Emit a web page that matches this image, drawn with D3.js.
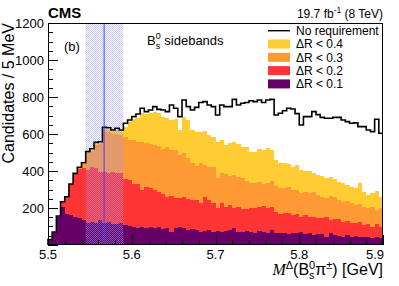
<!DOCTYPE html>
<html>
<head>
<meta charset="utf-8">
<script src="https://cdn.jsdelivr.net/npm/d3@7"></script>
<style>
  body { margin: 0; background: #fff; }
  text { font-family: "Liberation Sans", Arial, Helvetica, sans-serif; fill: #000; }
</style>
</head>
<body>
<script>
// Bin contents, 80 bins of 5 MeV from 5.5 to 5.9 GeV
const noRequirement = [30, 70, 157, 234, 261, 330, 387, 420, 445, 505,
  520, 555, 558, 636, 634, 622, 631, 622, 658, 676,
  694, 708, 739, 721, 730, 748, 733, 730, 721, 757,
  739, 694, 784, 748, 730, 744, 770, 775, 757, 748,
  703, 757, 748, 748, 787, 757, 766, 770, 780, 775,
  784, 770, 784, 787, 703, 712, 726, 739, 735, 710,
  649, 694, 694, 721, 705, 690, 685, 685, 690, 690,
  676, 667, 658, 660, 640, 640, 622, 613, 680, 604];

const dR04 = [30, 70, 157, 234, 261, 330, 387, 420, 442, 500,
  515, 548, 552, 625, 625, 615, 620, 612, 640, 667,
  680, 685, 715, 708, 712, 721, 715, 694, 685, 676,
  680, 622, 690, 676, 622, 612, 612, 618, 595, 586,
  559, 568, 541, 550, 559, 546, 532, 528, 505, 505,
  517, 514, 523, 514, 460, 445, 445, 438, 423, 432,
  405, 402, 402, 387, 378, 373, 360, 369, 355, 342,
  337, 324, 315, 306, 333, 288, 270, 279, 294, 261];

const dR03 = [30, 70, 157, 234, 261, 330, 387, 420, 440, 495,
  510, 540, 545, 615, 610, 600, 600, 595, 585, 568,
  568, 559, 559, 553, 546, 540, 535, 517, 528, 514,
  514, 486, 495, 468, 441, 427, 441, 432, 420, 420,
  360, 387, 384, 373, 378, 369, 360, 348, 335, 335,
  342, 330, 333, 348, 319, 306, 306, 315, 297, 300,
  283, 288, 279, 285, 270, 261, 252, 265, 258, 243,
  234, 238, 225, 216, 222, 207, 198, 205, 189, 198];

const dR02 = [30, 70, 157, 234, 261, 330, 387, 410, 414, 405,
  423, 414, 396, 396, 387, 396, 389, 387, 358, 350,
  332, 328, 295, 315, 306, 297, 284, 275, 260, 263,
  254, 252, 258, 247, 243, 245, 225, 258, 243, 229,
  198, 225, 207, 216, 198, 205, 193, 193, 198, 198,
  207, 211, 200, 207, 180, 168, 175, 171, 162, 168,
  153, 160, 150, 152, 148, 144, 150, 135, 140, 140,
  126, 130, 117, 120, 125, 108, 115, 99, 115, 99];

const dR01 = [30, 63, 150, 205, 168, 162, 153, 148, 135, 120,
  125, 117, 135, 117, 125, 115, 112, 117, 108, 104,
  99, 90, 95, 90, 95, 90, 95, 85, 90, 72,
  90, 95, 90, 81, 85, 81, 72, 77, 81, 72,
  77, 72, 77, 81, 90, 72, 72, 77, 72, 67,
  77, 72, 67, 81, 63, 67, 67, 59, 67, 63,
  72, 59, 63, 54, 58, 58, 45, 63, 54, 50,
  45, 54, 45, 50, 41, 45, 45, 36, 45, 36];

const xTicks = [5.5, 5.6, 5.7, 5.8, 5.9];
const yTicks = [0, 200, 400, 600, 800, 1000, 1200];
const legendLabels = ["No requirement", "ΔR < 0.4", "ΔR < 0.3", "ΔR < 0.2", "ΔR < 0.1"];
const band = [5.545, 5.59];
const signalMass = 5.567;

const width = 399, height = 286;
const margin = {top: 23, right: 16, bottom: 41, left: 48};

const svg = d3.select("body").append("svg")
  .attr("width", width)
  .attr("height", height);

const x = d3.scaleLinear().domain([5.5, 5.9]).range([margin.left, width - margin.right]);
const y = d3.scaleLinear().domain([0, 1200]).range([height - margin.bottom, margin.top]);

const binWidth = 0.005;
const toPoints = vals => d3.range(vals.length + 1).map(i => ({
  m: 5.5 + i * binWidth,
  v: vals[Math.min(i, vals.length - 1)]
}));

const defs = svg.append("defs");
const pat = defs.append("pattern")
  .attr("id", "checker")
  .attr("width", 2).attr("height", 2)
  .attr("patternUnits", "userSpaceOnUse");
pat.append("rect").attr("x", 0).attr("y", 0).attr("width", 1).attr("height", 1).attr("fill", "#9999ff");
pat.append("rect").attr("x", 1).attr("y", 1).attr("width", 1).attr("height", 1).attr("fill", "#9999ff");

// filled histograms, widest selection first
const fills = [
  {vals: dR04, color: "#ffcc33"},
  {vals: dR03, color: "#ff9933"},
  {vals: dR02, color: "#ff3535"},
  {vals: dR01, color: "#660066"}
];

const area = d3.area()
  .x(d => x(d.m))
  .y0(y(0))
  .y1(d => y(d.v))
  .curve(d3.curveStepAfter);

svg.append("g")
  .selectAll("path")
  .data(fills)
  .join("path")
  .attr("d", d => area(toPoints(d.vals)))
  .attr("fill", d => d.color)
  .attr("shape-rendering", "crispEdges");

// checkered mass window
svg.append("rect")
  .attr("x", x(band[0]))
  .attr("y", y(1200))
  .attr("width", x(band[1]) - x(band[0]))
  .attr("height", y(0) - y(1200))
  .attr("fill", "url(#checker)")
  .attr("opacity", 0.55);

// no-requirement outline
const line = d3.line()
  .x(d => x(d.m))
  .y(d => y(d.v))
  .curve(d3.curveStepAfter);

svg.append("path")
  .attr("d", line([{m: 5.5, v: 0}].concat(toPoints(noRequirement))))
  .attr("fill", "none")
  .attr("stroke", "#000")
  .attr("stroke-width", 1.6);

// signal mass line
svg.append("line")
  .attr("x1", x(signalMass)).attr("x2", x(signalMass))
  .attr("y1", y(0)).attr("y2", y(1200))
  .attr("stroke", "#4040ff")
  .attr("stroke-width", 1);

// frame
svg.append("rect")
  .attr("x", margin.left + 0.5)
  .attr("y", margin.top + 0.5)
  .attr("width", width - margin.left - margin.right - 1)
  .attr("height", height - margin.top - margin.bottom - 1)
  .attr("fill", "none")
  .attr("stroke", "#000")
  .attr("stroke-width", 1);

// ticks (drawn inside the frame, ROOT style)
const ticks = svg.append("g").attr("stroke", "#000").attr("shape-rendering", "crispEdges");
d3.range(0, 1201, 50).forEach(v => {
  const major = v % 200 === 0;
  ticks.append("line")
    .attr("x1", margin.left).attr("x2", margin.left + (major ? 10 : 5))
    .attr("y1", Math.round(y(v)) + 0.5).attr("y2", Math.round(y(v)) + 0.5);
});
d3.range(0, 21).forEach(i => {
  const m = 5.5 + i * 0.02;
  const major = i % 5 === 0;
  ticks.append("line")
    .attr("x1", Math.round(x(m)) + 0.5).attr("x2", Math.round(x(m)) + 0.5)
    .attr("y1", y(0)).attr("y2", y(0) - (major ? 10 : 5));
});

// tick labels
svg.append("g")
  .selectAll("text")
  .data(yTicks.filter(v => v > 0))
  .join("text")
  .attr("x", margin.left - 4)
  .attr("y", d => y(d))
  .attr("dy", "0.36em")
  .attr("text-anchor", "end")
  .style("font-size", "13px")
  .text(d => d);

svg.append("g")
  .selectAll("text")
  .data(xTicks)
  .join("text")
  .attr("x", d => x(d))
  .attr("y", 259)
  .attr("text-anchor", d => d === 5.9 ? "end" : "middle")
  .attr("dx", d => d === 5.9 ? 1 : 0)
  .style("font-size", "13px")
  .text(d => d.toFixed(1));

// axis titles
svg.append("text")
  .attr("transform", `translate(13.5,${margin.top}) rotate(-90)`)
  .attr("text-anchor", "end")
  .style("font-size", "16px")
  .text("Candidates / 5 MeV");

const xt = svg.append("text")
  .attr("x", width - margin.right)
  .attr("y", 275)
  .attr("text-anchor", "end")
  .style("font-size", "16px");
xt.append("tspan").style("font-family", "'Liberation Serif', 'Times New Roman', serif").style("font-style", "italic").text("M");
xt.append("tspan").attr("dy", -6).style("font-size", "11px").text("Δ");
xt.append("tspan").attr("dy", 6).text("(B");
xt.append("tspan").attr("dy", 4).style("font-size", "11px").text("s");
xt.append("tspan").attr("dx", -5.5).attr("dy", -10).style("font-size", "11px").text("0");
xt.append("tspan").attr("dy", 6).text("π");
xt.append("tspan").attr("dy", -6).style("font-size", "11px").text("±");
xt.append("tspan").attr("dy", 6).text(") [GeV]");

// header texts
svg.append("text")
  .attr("x", margin.left).attr("y", 18)
  .style("font-size", "15px").style("font-weight", "bold")
  .text("CMS");

const lumi = svg.append("text")
  .attr("x", width - margin.right).attr("y", 18)
  .attr("text-anchor", "end")
  .style("font-size", "12px");
lumi.append("tspan").text("19.7 fb");
lumi.append("tspan").attr("dy", -5).style("font-size", "8.5px").text("-1");
lumi.append("tspan").attr("dy", 5).text(" (8 TeV)");

svg.append("text")
  .attr("x", 64).attr("y", 51)
  .style("font-size", "13px")
  .text("(b)");

const sb = svg.append("text")
  .attr("x", 147).attr("y", 45)
  .style("font-size", "13px");
sb.append("tspan").text("B");
sb.append("tspan").attr("dy", 4).style("font-size", "9px").text("s");
sb.append("tspan").attr("dx", -4.5).attr("dy", -10).style("font-size", "9px").text("0");
sb.append("tspan").attr("dy", 6).text(" sidebands");

// legend
const legend = svg.append("g");
const rowY = i => 30.7 + i * 13.3;
legend.append("line")
  .attr("x1", 268).attr("x2", 290)
  .attr("y1", rowY(0)).attr("y2", rowY(0))
  .attr("stroke", "#000").attr("stroke-width", 1.4);
fills.forEach((f, i) => {
  legend.append("rect")
    .attr("x", 268).attr("y", rowY(i + 1) - 4.5)
    .attr("width", 22).attr("height", 9)
    .attr("fill", f.color);
});
legend.selectAll("text")
  .data(legendLabels)
  .join("text")
  .attr("x", 296)
  .attr("y", (d, i) => rowY(i))
  .attr("dy", "0.36em")
  .style("font-size", "12px")
  .text(d => d);
</script>
</body>
</html>
